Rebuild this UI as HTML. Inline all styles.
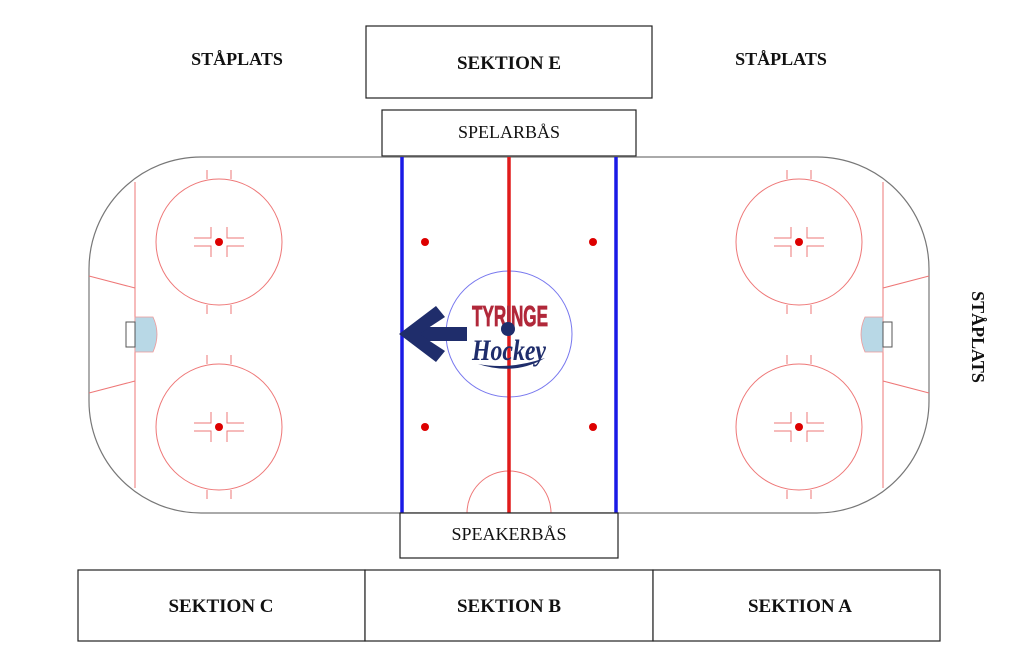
<!DOCTYPE html>
<html><head><meta charset="utf-8"><style>
html,body{margin:0;padding:0;background:#fff;width:1024px;height:668px;overflow:hidden}
svg{display:block}
.b{font-family:"Liberation Serif",serif;font-weight:bold;fill:#111}
.n{font-family:"Liberation Serif",serif;fill:#111}
</style></head><body>
<svg width="1024" height="668" viewBox="0 0 1024 668" xmlns="http://www.w3.org/2000/svg">
<g fill="#fff" stroke="#222" stroke-width="1.2">
<rect x="366" y="26" width="286" height="72"/>
<rect x="382" y="110" width="254" height="46"/>
<rect x="78" y="570" width="287" height="71"/>
<rect x="365" y="570" width="288" height="71"/>
<rect x="653" y="570" width="287" height="71"/>
</g>
<text class="b" x="509" y="69" font-size="19" text-anchor="middle">SEKTION E</text>
<text class="n" x="509" y="138" font-size="18" text-anchor="middle">SPELARBÅS</text>
<text class="b" x="237" y="65" font-size="18" text-anchor="middle">STÅPLATS</text>
<text class="b" x="781" y="65" font-size="18" text-anchor="middle">STÅPLATS</text>
<text class="b" x="221" y="612" font-size="19" text-anchor="middle">SEKTION C</text>
<text class="b" x="509" y="612" font-size="19" text-anchor="middle">SEKTION B</text>
<text class="b" x="800" y="612" font-size="19" text-anchor="middle">SEKTION A</text>
<text class="b" x="0" y="0" font-size="18" text-anchor="middle" transform="translate(972,337) rotate(90)">STÅPLATS</text>

<rect x="89" y="157" width="840" height="356" rx="112" ry="112" fill="#fff" stroke="#777" stroke-width="1.2"/>
<g stroke="#ee7777" stroke-width="1" fill="none">
<line x1="135" y1="182" x2="135" y2="488"/>
<line x1="883" y1="182" x2="883" y2="488"/>
<line x1="89" y1="276" x2="135" y2="288"/>
<line x1="89" y1="393" x2="135" y2="381"/>
<line x1="929" y1="276" x2="883" y2="288"/>
<line x1="929" y1="393" x2="883" y2="381"/>
</g>
<path d="M135 317 H153 Q161 334 153 352 H135 Z" fill="#b8d8e6" stroke="#e99" stroke-width="0.8"/>
<rect x="126" y="322" width="9" height="25" fill="#fff" stroke="#555" stroke-width="1"/>
<path d="M883 317 H865 Q857 334 865 352 H883 Z" fill="#b8d8e6" stroke="#e99" stroke-width="0.8"/>
<rect x="883" y="322" width="9" height="25" fill="#fff" stroke="#555" stroke-width="1"/>

<defs>
<g id="fc">
<circle cx="0" cy="0" r="63" fill="none" stroke="#ee7777" stroke-width="1"/>
<g stroke="#ee7777" stroke-width="1" fill="none">
<line x1="-12" y1="-63" x2="-12" y2="-72"/><line x1="12" y1="-63" x2="12" y2="-72"/>
<line x1="-12" y1="63" x2="-12" y2="72"/><line x1="12" y1="63" x2="12" y2="72"/>
<path d="M-25 -4 H-8 V-15 M8 -15 V-4 H25 M-25 4 H-8 V15 M8 15 V4 H25"/>
</g>
<circle cx="0" cy="0" r="4" fill="#dd0000"/>
</g>
</defs>
<use href="#fc" x="219" y="242"/>
<use href="#fc" x="219" y="427"/>
<use href="#fc" x="799" y="242"/>
<use href="#fc" x="799" y="427"/>

<circle cx="509" cy="334" r="63" fill="none" stroke="#7777ee" stroke-width="1"/>
<path d="M467 513 A42 42 0 0 1 551 513" fill="none" stroke="#ee7777" stroke-width="1"/>
<g fill="#dd0000">
<circle cx="425" cy="242" r="4"/><circle cx="593" cy="242" r="4"/>
<circle cx="425" cy="427" r="4"/><circle cx="593" cy="427" r="4"/>
</g>
<line x1="402" y1="157" x2="402" y2="513" stroke="#1a1ae6" stroke-width="3.5"/>
<line x1="616" y1="157" x2="616" y2="513" stroke="#1a1ae6" stroke-width="3.5"/>
<line x1="509" y1="157" x2="509" y2="513" stroke="#e01b1b" stroke-width="3.5"/>

<g fill="#1f2d6b">
<rect x="416" y="327" width="51" height="14"/>
<polygon points="399,334 436,306 445,317 419,334 445,351 436,362"/>
</g>
<text x="510" y="326" font-family="Liberation Sans, sans-serif" font-weight="bold" font-size="29" fill="#b1283a" text-anchor="middle" textLength="76" lengthAdjust="spacingAndGlyphs" stroke="#b1283a" stroke-width="0.8">TYRINGE</text>
<circle cx="508" cy="329" r="7" fill="#1f2d6b"/>
<text x="509" y="360" font-family="Liberation Serif, serif" font-style="italic" font-weight="bold" font-size="30" fill="#1f2d6b" text-anchor="middle" textLength="74" lengthAdjust="spacingAndGlyphs">Hockey</text>
<path d="M478 364 Q510 370 545 358 Q515 376 478 364Z" fill="#1f2d6b"/>

<rect x="400" y="513" width="218" height="45" fill="#fff" stroke="#222" stroke-width="1.2"/>
<text class="n" x="509" y="540" font-size="18" text-anchor="middle">SPEAKERBÅS</text>
</svg>
</body></html>
